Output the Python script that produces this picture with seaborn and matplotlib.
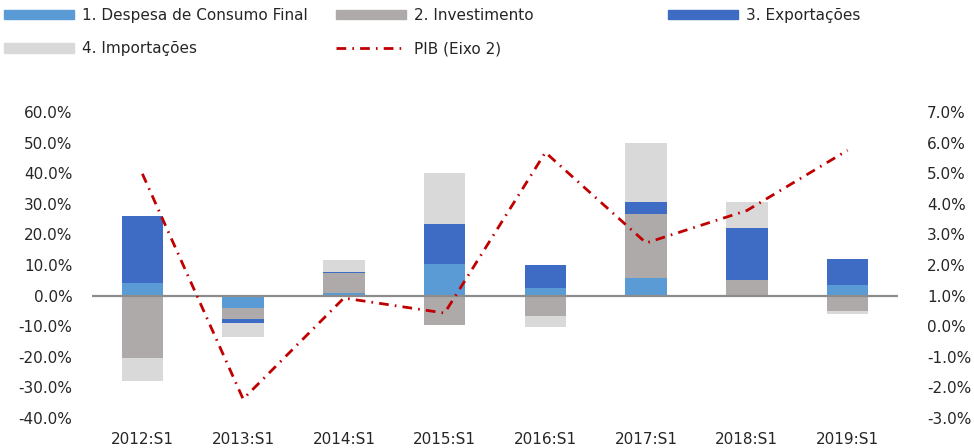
import numpy as np
import matplotlib
matplotlib.use("Agg")
import matplotlib.pyplot as plt
import seaborn as sns
from matplotlib.patches import Patch
from matplotlib.lines import Line2D
from matplotlib.ticker import FuncFormatter, MultipleLocator

# --- dados (pontos percentuais / %) ---
periodos = ["2012:S1", "2013:S1", "2014:S1", "2015:S1", "2016:S1", "2017:S1", "2018:S1", "2019:S1"]
consumo = [4.2, -4.0, 0.8, 10.4, 2.5, 5.8, 0.3, 3.5]
investimento = [-20.3, -3.5, 6.6, -9.6, -6.6, 20.9, 4.8, -5.0]
exportacoes = [21.9, -1.5, 0.3, 13.1, 7.5, 3.9, 17.0, 8.5]
importacoes = [-7.7, -4.4, 3.9, 16.7, -3.8, 19.3, 8.5, -0.9]
pib = [4.98, -2.38, 0.92, 0.43, 5.68, 2.72, 3.78, 5.75]

nomes = ["1. Despesa de Consumo Final", "2. Investimento", "3. Exportações", "4. Importações"]
cores = ["#5B9BD5", "#AEAAAA", "#3E6BC4", "#D9D9D9"]
cor_pib = "#C00000"
tracejado = [3.5, 2.2, 0.6, 2.2]

sns.set_theme(style="white")
plt.rcParams["font.family"] = ["DejaVu Sans"]
plt.rcParams["text.color"] = "#262626"

fig = plt.figure(figsize=(9.74, 4.48), dpi=100)
ax = fig.add_axes([92 / 974, 30 / 448, 806 / 974, 306 / 448])

# barras empilhadas (positivos para cima, negativos para baixo)
base_pos = np.zeros(len(periodos))
base_neg = np.zeros(len(periodos))
for serie, cor in zip([consumo, investimento, exportacoes, importacoes], cores):
    v = np.array(serie)
    base = np.where(v >= 0, base_pos, base_neg)
    ax.bar(periodos, v, bottom=base, width=0.41, color=cor, linewidth=0, zorder=2)
    base_pos = base_pos + np.where(v >= 0, v, 0)
    base_neg = base_neg + np.where(v < 0, v, 0)

ax.axhline(0, color="#8C8C8C", lw=1.6, zorder=3)
ax.set_ylim(-40, 60)
ax.set_xlim(-0.5, len(periodos) - 0.5)
ax.yaxis.set_major_locator(MultipleLocator(10))
ax.yaxis.set_major_formatter(FuncFormatter(lambda v, p: f"{v:.1f}%"))
ax.tick_params(axis="y", length=0, pad=14, labelsize=11, labelcolor="#262626")
ax.tick_params(axis="x", length=0, pad=10, labelsize=11, labelcolor="#262626")
for s in ax.spines.values():
    s.set_visible(False)

# eixo 2 - PIB
ax2 = ax.twinx()
sns.pointplot(x=periodos, y=pib, ax=ax2, color=cor_pib, marker="", linestyle="-.",
              linewidth=2, errorbar=None, zorder=4)
for ln in ax2.lines:
    ln.set_dashes(tracejado)
ax2.set_ylim(-3, 7)
ax2.set_xlim(-0.5, len(periodos) - 0.5)
ax2.yaxis.set_major_locator(MultipleLocator(1))
ax2.yaxis.set_major_formatter(FuncFormatter(lambda v, p: f"{v:.1f}%"))
ax2.tick_params(axis="y", length=0, pad=21, labelsize=11, labelcolor="#262626")
ax2.set_ylabel("")
for s in ax2.spines.values():
    s.set_visible(False)

# legenda em 3 colunas fixas
h = [Patch(color=c) for c in cores]
h_pib = Line2D([], [], color=cor_pib, lw=2, linestyle="-.", dashes=tracejado)
colunas = [([h[0], h[3]], [nomes[0], nomes[3]]),
           ([h[1], h_pib], [nomes[1], "PIB (Eixo 2)"]),
           ([h[2]], [nomes[2]])]
for xpos, (hh, ll) in zip([0.004, 0.345, 0.686], colunas):
    fig.legend(hh, ll, loc="upper left", bbox_to_anchor=(xpos, 1 - 8 / 448),
               frameon=False, fontsize=11, handlelength=4.6, handleheight=0.55,
               handletextpad=0.5, labelspacing=1.2, borderpad=0, borderaxespad=0)

fig.savefig("out.png", dpi=100)
